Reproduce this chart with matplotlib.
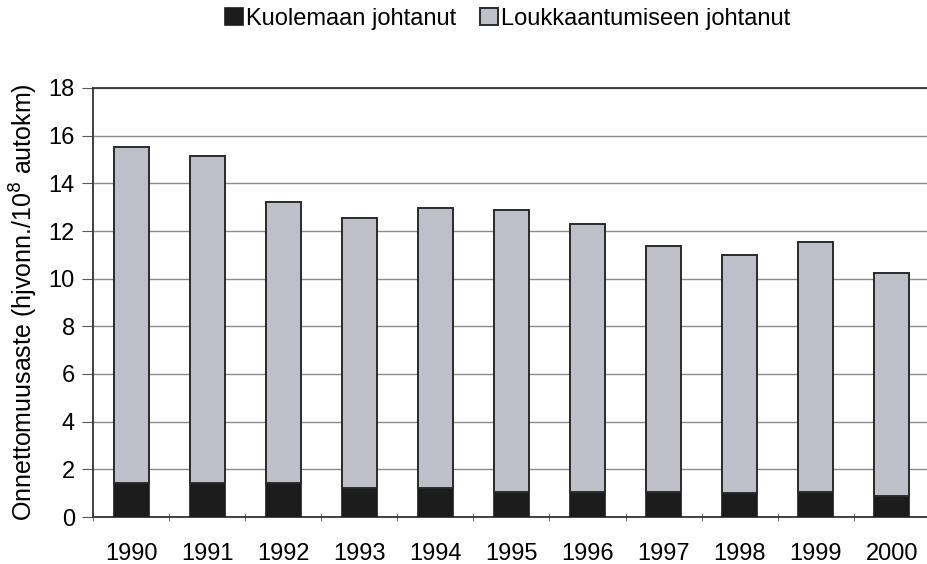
import matplotlib.pyplot as plt
import numpy as np

plt.rcParams['font.family'] = ['Liberation Sans', 'DejaVu Sans']

# data
years = ['1990', '1991', '1992', '1993', '1994', '1995', '1996', '1997', '1998', '1999', '2000']
fatal = [1.43, 1.43, 1.43, 1.2, 1.2, 1.05, 1.05, 1.05, 1.0, 1.05, 0.9]
total = [15.53, 15.15, 13.2, 12.55, 12.97, 12.88, 12.3, 11.37, 11.0, 11.54, 10.24]
injury = [t - f for t, f in zip(total, fatal)]

fig = plt.figure(figsize=(9.28, 5.64), dpi=100)
ax = fig.add_axes([93 / 928, 1 - 517 / 564, 1 - 93 / 928 + 0.002, (517 - 88) / 564])

x = np.arange(len(years))
ax.bar(x, fatal, width=0.46, color='#1c1c1c', edgecolor='#1c1c1c', linewidth=1.2,
       label='Kuolemaan johtanut', zorder=3)
ax.bar(x, injury, bottom=fatal, width=0.46, color='#bfbfc7', edgecolor='#2a2a2a',
       linewidth=1.4, label='Loukkaantumiseen johtanut', zorder=3)

ax.set_xlim(-0.5, len(years) - 0.5)
ax.set_ylim(0, 18)
ax.set_yticks(range(0, 19, 2))
ax.yaxis.grid(True, color='#8a8a8a', linewidth=1.0, zorder=0)

ax.set_xticks(x)
ax.set_xticklabels(years, fontsize=17)
ax.tick_params(axis='x', length=0, pad=19)
ax.set_xticks(np.arange(-0.5, len(years), 1), minor=True)
ax.tick_params(axis='x', which='minor', length=6, direction='inout', color='#555555')
ax.tick_params(axis='y', labelsize=17, length=8, direction='out', color='#555555', pad=5)

for s in ['left', 'bottom', 'top', 'right']:
    ax.spines[s].set_linewidth(1.3)
    ax.spines[s].set_color('#333333')

ax.set_ylabel('Onnettomuusaste (hjvonn./10$^8$ autokm)', fontsize=18, labelpad=6)

fig.legend(loc='upper center', bbox_to_anchor=(0.547, 1.024), ncol=2, frameon=False,
           fontsize=17, handlelength=0.75, handleheight=0.75, handletextpad=0.15,
           columnspacing=1.0)

fig.savefig('out.png', dpi=100)
